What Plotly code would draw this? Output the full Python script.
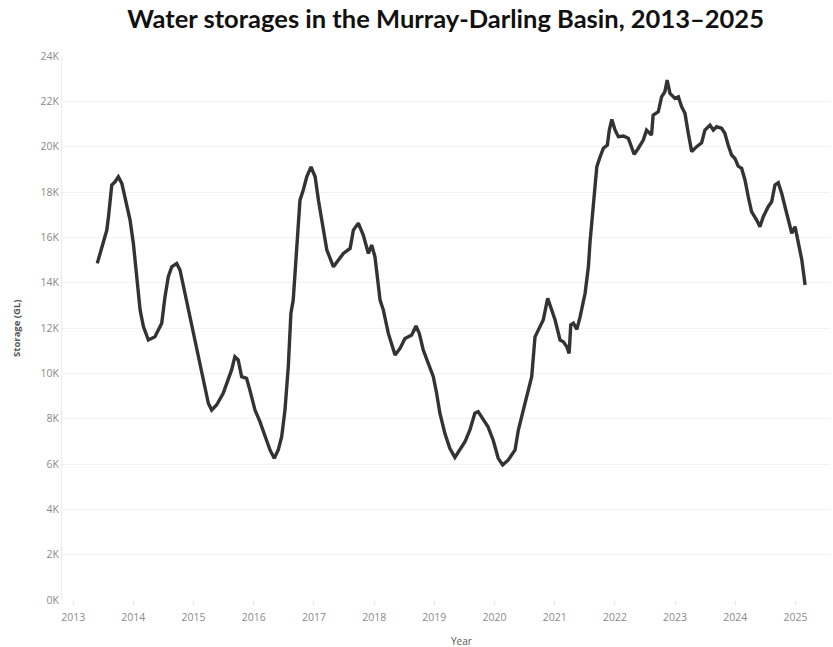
import plotly.graph_objects as go

dates = [
    "2013-05-27", "2013-07-13", "2013-07-24", "2013-08-03", "2013-08-23", "2013-09-12", "2013-10-02",
    "2013-10-23", "2013-11-22", "2013-12-12", "2014-01-01", "2014-01-21", "2014-02-11", "2014-03-03",
    "2014-04-02", "2014-05-12", "2014-06-22", "2014-07-12", "2014-08-01", "2014-08-22", "2014-09-21",
    "2014-10-11", "2014-11-10", "2014-12-10", "2015-01-10", "2015-01-30", "2015-03-01", "2015-04-01",
    "2015-04-21", "2015-05-21", "2015-06-30", "2015-07-30", "2015-08-20", "2015-09-09", "2015-09-29",
    "2015-10-20", "2015-11-19", "2015-12-09", "2016-01-09", "2016-02-08", "2016-03-10", "2016-04-09",
    "2016-05-05", "2016-05-29", "2016-06-19", "2016-07-09", "2016-07-29", "2016-08-14", "2016-08-28",
    "2016-09-14", "2016-09-28", "2016-10-08", "2016-10-28", "2016-11-18", "2016-12-14", "2017-01-08",
    "2017-01-28", "2017-02-18", "2017-03-20", "2017-04-29", "2017-05-29", "2017-06-28", "2017-08-08",
    "2017-08-28", "2017-09-27", "2017-10-27", "2017-11-27", "2017-12-17", "2018-01-06", "2018-02-06",
    "2018-02-26", "2018-03-28", "2018-05-08", "2018-06-07", "2018-07-07", "2018-08-17", "2018-09-12",
    "2018-10-02", "2018-10-26", "2018-11-25", "2018-12-26", "2019-01-15", "2019-02-04", "2019-03-06",
    "2019-04-05", "2019-05-06", "2019-06-05", "2019-07-06", "2019-08-05", "2019-09-04", "2019-09-24",
    "2019-10-24", "2019-11-23", "2019-12-24", "2020-01-24", "2020-02-20", "2020-03-25", "2020-05-05",
    "2020-05-25", "2020-06-24", "2020-07-25", "2020-08-14", "2020-09-03", "2020-09-23", "2020-10-23",
    "2020-11-19", "2020-12-13", "2021-01-03", "2021-02-02", "2021-02-22", "2021-03-15", "2021-03-29",
    "2021-04-08", "2021-04-24", "2021-05-15", "2021-06-04", "2021-07-04", "2021-07-24", "2021-08-03",
    "2021-08-23", "2021-09-13", "2021-10-03", "2021-10-23", "2021-11-16", "2021-11-28", "2021-12-13",
    "2022-01-02", "2022-01-22", "2022-02-21", "2022-03-23", "2022-04-13", "2022-04-28", "2022-05-23",
    "2022-06-22", "2022-07-12", "2022-08-11", "2022-08-21", "2022-09-21", "2022-10-11", "2022-10-31",
    "2022-11-14", "2022-12-01", "2023-01-01", "2023-01-21", "2023-02-10", "2023-03-02", "2023-03-22",
    "2023-04-12", "2023-05-12", "2023-06-11", "2023-07-01", "2023-08-01", "2023-08-21", "2023-09-10",
    "2023-10-10", "2023-10-30", "2023-11-19", "2023-12-10", "2023-12-30", "2024-01-19", "2024-02-09",
    "2024-02-29", "2024-03-20", "2024-04-09", "2024-05-10", "2024-05-30", "2024-06-19", "2024-07-19",
    "2024-08-09", "2024-08-29", "2024-09-18", "2024-10-09", "2024-10-29", "2024-11-18", "2024-12-09",
    "2024-12-29", "2025-01-18", "2025-02-08", "2025-02-28",
]

storage_gl = [
    14850, 15960, 16320, 16910, 18310, 18450, 18670,
    18380, 17500, 16760, 15730, 14260, 12790, 12060,
    11470, 11610, 12210, 13380, 14260, 14700, 14850,
    14560, 13530, 12350, 11320, 10730, 9700, 8680,
    8380, 8600, 9120, 9700, 10150, 10730, 10590,
    9850, 9780, 9260, 8380, 7870, 7200, 6620,
    6250, 6620, 7200, 8380, 10290, 12650, 13230,
    15140, 16760, 17640, 18090, 18670, 19110, 18670,
    17640, 16760, 15440, 14700, 15000, 15290, 15510,
    16320, 16620, 16100, 15290, 15660, 15140, 13230,
    12790, 11760, 10810, 11100, 11540, 11690, 12090,
    11760, 11030, 10440, 9850, 9120, 8240, 7350,
    6690, 6290, 6620, 6980, 7500, 8240, 8310,
    7940, 7640, 7060, 6250, 5960, 6180, 6620,
    7500, 8380, 9260, 9850, 11610, 11910, 12350,
    13310, 12790, 12350, 11470, 11390, 11170, 10880,
    12130, 12210, 11940, 12500, 13530, 14700, 15800,
    17640, 19110, 19550, 19930, 20070, 20730, 21200,
    20730, 20440, 20470, 20370, 19930, 19660, 19930,
    20290, 20730, 20510, 21390, 21540, 22200, 22420,
    22940, 22350, 22130, 22200, 21760, 21470, 20590,
    19780, 20000, 20170, 20730, 20950, 20730, 20880,
    20810, 20590, 20070, 19630, 19480, 19140, 19040,
    18530, 17790, 17130, 16760, 16470, 16910, 17350,
    17570, 18310, 18410, 17940, 17350, 16840, 16180,
    16470, 15810, 15000, 13900,
]

y_tick_values = [0, 2000, 4000, 6000, 8000, 10000, 12000, 14000, 16000, 18000, 20000, 22000, 24000]
y_tick_labels = ["0K", "2K", "4K", "6K", "8K", "10K", "12K", "14K", "16K", "18K", "20K", "22K", "24K"]

fig = go.Figure()
fig.add_trace(go.Scatter(
    x=dates, y=storage_gl, mode="lines",
    line=dict(color="#333333", width=3.4),
    hoverinfo="skip",
))

fig.update_layout(
    width=833, height=647,
    margin=dict(l=62, r=3, t=56, b=47, autoexpand=False),
    paper_bgcolor="white", plot_bgcolor="white",
    showlegend=False,
    title=dict(
        text="<b>Water storages in the Murray-Darling Basin, 2013–2025</b>",
        x=0.535, xanchor="center", y=0.971, yanchor="middle",
        font=dict(family="Lato", size=25.5, color="#111111"),
    ),
    font=dict(family="Open Sans", color="#8a8a8a"),
    annotations=[
        dict(text="<b>Storage (GL)</b>", xref="paper", yref="paper", x=-0.06, y=0.5,
             xanchor="center", yanchor="middle", textangle=-90, showarrow=False,
             font=dict(family="Open Sans", size=9.5, color="#555555")),
        dict(text="Year", xref="paper", yref="paper", x=0.52, y=-0.075,
             xanchor="center", yanchor="middle", showarrow=False,
             font=dict(family="Open Sans", size=10, color="#555555")),
    ],
)

fig.update_xaxes(
    type="date",
    range=["2012-10-25", "2025-07-29"],
    dtick="M12", tick0="2013-01-01", tickformat="%Y",
    ticks="outside", ticklen=4, tickcolor="#e6e6e6", ticklabelstandoff=3,
    showgrid=False, showline=False, zeroline=False, automargin=False,
    tickfont=dict(family="Open Sans", size=10.5, color="#8a8a8a"),
)

fig.update_yaxes(
    range=[0, 24000],
    tickmode="array", tickvals=y_tick_values, ticktext=y_tick_labels,
    showgrid=True, gridcolor="#f2f2f2", gridwidth=1,
    showline=True, linecolor="#ececec", linewidth=1,
    zeroline=False, ticks="", automargin=False,
    tickfont=dict(family="Open Sans", size=10.5, color="#8a8a8a"),
)

fig.write_html("out.html", config={"displayModeBar": False},
               post_script="document.body.style.margin='0';")
